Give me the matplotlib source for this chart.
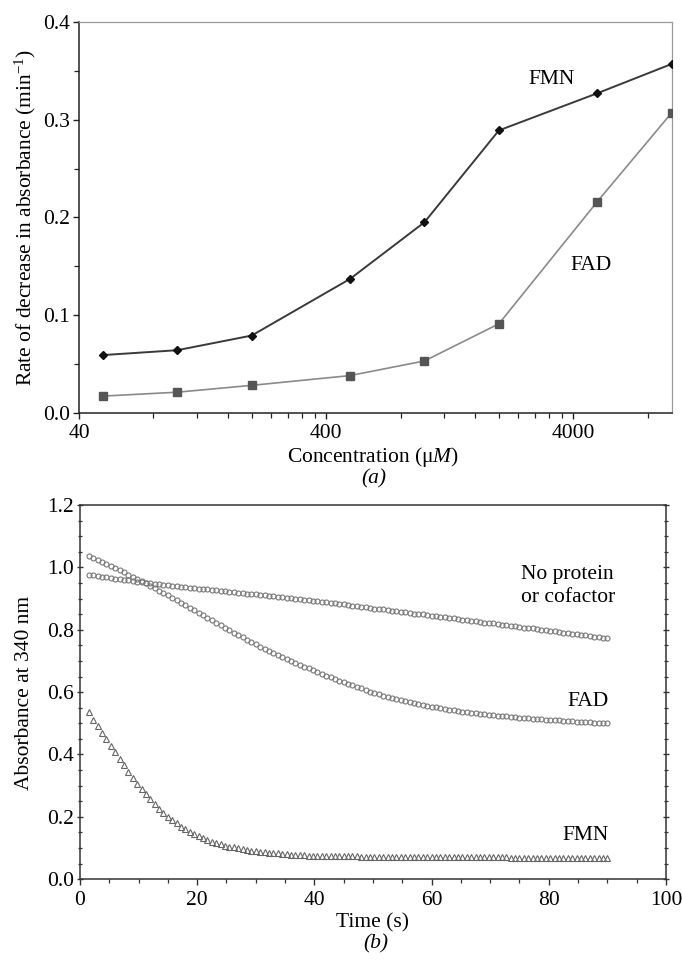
import matplotlib
matplotlib.use("Agg")
import matplotlib.pyplot as plt
from matplotlib.ticker import FixedLocator, NullFormatter, MultipleLocator, FormatStrFormatter
import numpy as np

plt.rcParams['font.family'] = ['Liberation Serif', 'DejaVu Serif']
plt.rcParams['mathtext.fontset'] = 'custom'
plt.rcParams['mathtext.rm'] = 'Liberation Serif'
plt.rcParams['mathtext.it'] = 'Liberation Serif:italic'

# ---------------- Panel (a) data ----------------
conc = [50, 100, 200, 500, 1000, 2000, 5000, 10000]
rate_fmn = [0.059, 0.064, 0.079, 0.137, 0.195, 0.289, 0.327, 0.357]
rate_fad = [0.017, 0.021, 0.028, 0.038, 0.053, 0.091, 0.216, 0.307]
conc_major = [40, 400, 4000]
conc_minor = [80, 120, 160, 200, 240, 280, 320, 360,
              800, 1200, 1600, 2000, 2400, 2800, 3200, 3600, 8000]

# ---------------- Panel (b) data ----------------
t_start = 1.5
t_step = 0.75
abs_noprot = [
    0.976, 0.974, 0.972, 0.970, 0.968, 0.966, 0.964, 0.962, 0.960, 0.958,
    0.956, 0.954, 0.952, 0.950, 0.949, 0.947, 0.946, 0.944, 0.943, 0.941,
    0.940, 0.938, 0.937, 0.935, 0.934, 0.932, 0.931, 0.929, 0.928, 0.926,
    0.925, 0.923, 0.922, 0.920, 0.919, 0.917, 0.916, 0.914, 0.913, 0.911,
    0.910, 0.908, 0.907, 0.905, 0.904, 0.902, 0.901, 0.899, 0.898, 0.896,
    0.895, 0.893, 0.892, 0.890, 0.888, 0.887, 0.885, 0.883, 0.881, 0.879,
    0.877, 0.876, 0.874, 0.872, 0.870, 0.868, 0.867, 0.865, 0.863, 0.861,
    0.859, 0.858, 0.856, 0.854, 0.852, 0.850, 0.849, 0.847, 0.845, 0.843,
    0.841, 0.840, 0.838, 0.836, 0.834, 0.832, 0.831, 0.829, 0.827, 0.825,
    0.823, 0.822, 0.820, 0.818, 0.816, 0.814, 0.813, 0.811, 0.809, 0.807,
    0.805, 0.804, 0.802, 0.800, 0.798, 0.796, 0.795, 0.793, 0.791, 0.789,
    0.787, 0.786, 0.784, 0.782, 0.780, 0.778, 0.777, 0.775, 0.773]
abs_fad = [
    1.035, 1.029, 1.022, 1.016, 1.010, 1.003, 0.997, 0.990, 0.984, 0.977,
    0.970, 0.964, 0.957, 0.949, 0.941, 0.933, 0.925, 0.917, 0.910, 0.902,
    0.894, 0.886, 0.878, 0.870, 0.862, 0.854, 0.846, 0.838, 0.830, 0.822,
    0.814, 0.806, 0.799, 0.791, 0.783, 0.776, 0.768, 0.760, 0.753, 0.746,
    0.739, 0.733, 0.726, 0.719, 0.713, 0.706, 0.700, 0.694, 0.688, 0.682,
    0.676, 0.670, 0.664, 0.659, 0.653, 0.648, 0.643, 0.637, 0.632, 0.627,
    0.622, 0.617, 0.612, 0.607, 0.601, 0.597, 0.593, 0.589, 0.585, 0.582,
    0.578, 0.574, 0.571, 0.568, 0.565, 0.562, 0.559, 0.556, 0.553, 0.551,
    0.549, 0.546, 0.544, 0.542, 0.540, 0.537, 0.536, 0.534, 0.532, 0.531,
    0.529, 0.527, 0.526, 0.525, 0.523, 0.522, 0.521, 0.519, 0.518, 0.517,
    0.516, 0.515, 0.514, 0.513, 0.512, 0.511, 0.510, 0.509, 0.508, 0.507,
    0.506, 0.505, 0.504, 0.504, 0.503, 0.502, 0.501, 0.501, 0.500]
abs_fmn = [
    0.535, 0.512, 0.490, 0.469, 0.449, 0.428, 0.407, 0.386, 0.365, 0.345,
    0.325, 0.306, 0.289, 0.272, 0.256, 0.240, 0.226, 0.212, 0.200, 0.189,
    0.179, 0.169, 0.160, 0.152, 0.145, 0.138, 0.132, 0.126, 0.121, 0.117,
    0.112, 0.108, 0.105, 0.102, 0.099, 0.096, 0.094, 0.092, 0.090, 0.088,
    0.087, 0.085, 0.084, 0.083, 0.081, 0.080, 0.079, 0.078, 0.077, 0.077,
    0.076, 0.075, 0.075, 0.075, 0.074, 0.074, 0.074, 0.073, 0.073, 0.073,
    0.073, 0.073, 0.072, 0.072, 0.072, 0.072, 0.072, 0.071, 0.071, 0.071,
    0.071, 0.071, 0.071, 0.071, 0.071, 0.071, 0.071, 0.071, 0.071, 0.071,
    0.071, 0.070, 0.070, 0.070, 0.070, 0.070, 0.070, 0.070, 0.070, 0.070,
    0.070, 0.070, 0.070, 0.070, 0.070, 0.070, 0.069, 0.069, 0.069, 0.069,
    0.069, 0.069, 0.069, 0.069, 0.069, 0.069, 0.069, 0.069, 0.068, 0.068,
    0.068, 0.068, 0.068, 0.068, 0.068, 0.068, 0.068, 0.068, 0.068]
time_s = t_start + t_step * np.arange(len(abs_fmn))

FS = 15.5

fig = plt.figure(figsize=(6.82, 9.6), dpi=100)

# ---------------- Panel (a) ----------------
ax1 = fig.add_axes([0.1158, 0.5701, 0.869, 0.407])
ax1.plot(conc, rate_fmn, '-', color='#3a3a3a', lw=1.4, marker='D', ms=3.8,
         mfc='#111111', mec='#111111', zorder=3)
ax1.plot(conc, rate_fad, '-', color='#8a8a8a', lw=1.2, marker='s', ms=5.4,
         mfc='#555555', mec='#555555', zorder=3)
ax1.set_xscale('log')
ax1.set_xlim(40, 10000)
ax1.set_ylim(0, 0.4)
ax1.xaxis.set_major_locator(FixedLocator(conc_major))
ax1.xaxis.set_minor_locator(FixedLocator(conc_minor))
ax1.xaxis.set_minor_formatter(NullFormatter())
ax1.set_xticklabels([str(v) for v in conc_major])
ax1.yaxis.set_major_locator(MultipleLocator(0.1))
ax1.yaxis.set_minor_locator(MultipleLocator(0.05))
ax1.yaxis.set_major_formatter(FormatStrFormatter('%.1f'))
for side in ['left', 'bottom']:
    ax1.spines[side].set_color('#222222')
    ax1.spines[side].set_linewidth(1.1)
for side in ['top', 'right']:
    ax1.spines[side].set_color('#9a9a9a')
    ax1.spines[side].set_linewidth(0.9)
ax1.tick_params(which='major', direction='out', length=4.5, width=1.0,
                labelsize=FS, pad=3.5, color='#222222')
ax1.tick_params(which='minor', direction='out', length=3.5, width=0.9,
                color='#222222')
ax1.tick_params(axis='y', which='major', pad=2)
ax1.set_xlabel(r'Concentration ($\mathrm{\mu}$$\mathit{M}$)', fontsize=FS)
ax1.set_ylabel(r'Rate of decrease in absorbance (min$^{-1}$)', fontsize=FS)
ax1.xaxis.set_label_coords(0.496, -0.113)
ax1.xaxis.label.set_va('center')
ax1.yaxis.set_label_coords(-0.091, 0.5)
ax1.yaxis.label.set_va('center')
ax1.text(0.798, 0.854, 'FMN', transform=ax1.transAxes, fontsize=FS,
         ha='center', va='center')
ax1.text(0.864, 0.376, 'FAD', transform=ax1.transAxes, fontsize=FS,
         ha='center', va='center')
fig.text(0.548, 1 - 479 / 960, '(a)', fontsize=FS, style='italic',
         ha='center', va='center')

# ---------------- Panel (b) ----------------
ax2 = fig.add_axes([0.1173, 0.0841, 0.8592, 0.3899])
ax2.plot(time_s, abs_noprot, 'o', ls='none', ms=3.6, mfc='none',
         mec='#777777', mew=0.8)
ax2.plot(time_s, abs_fad, 'o', ls='none', ms=3.6, mfc='none',
         mec='#777777', mew=0.8)
ax2.plot(time_s, abs_fmn, '^', ls='none', ms=3.8, mfc='none',
         mec='#666666', mew=0.8)
ax2.set_xlim(0, 100)
ax2.set_ylim(0, 1.2)
ax2.xaxis.set_major_locator(MultipleLocator(20))
ax2.xaxis.set_minor_locator(MultipleLocator(5))
ax2.yaxis.set_major_locator(MultipleLocator(0.2))
ax2.yaxis.set_minor_locator(MultipleLocator(0.05))
ax2.yaxis.set_major_formatter(FormatStrFormatter('%.1f'))
for side in ['left', 'bottom', 'top', 'right']:
    ax2.spines[side].set_color('#333333')
    ax2.spines[side].set_linewidth(1.1)
ax2.tick_params(which='major', direction='out', length=4.5, width=1.0,
                labelsize=FS, pad=4, color='#333333')
ax2.tick_params(which='minor', direction='out', length=3, width=0.9,
                color='#333333')
ax2.tick_params(which='both', axis='y', right=True)
ax2.tick_params(which='both', axis='y', direction='inout')
ax2.tick_params(axis='y', which='major', pad=2)
ax2.set_xlabel('Time (s)', fontsize=FS)
ax2.set_ylabel('Absorbance at 340 nm', fontsize=FS)
ax2.xaxis.set_label_coords(0.5, -0.117)
ax2.xaxis.label.set_va('center')
ax2.yaxis.set_label_coords(-0.094, 0.498)
ax2.yaxis.label.set_va('center')
ax2.text(0.7526, 0.783, 'No protein\nor cofactor', transform=ax2.transAxes,
         fontsize=FS, ha='left', va='center', linespacing=1.25)
ax2.text(0.902, 0.4745, 'FAD', transform=ax2.transAxes, fontsize=FS,
         ha='right', va='center')
ax2.text(0.9016, 0.118, 'FMN', transform=ax2.transAxes, fontsize=FS,
         ha='right', va='center')
fig.text(0.551, 1 - 944 / 960, '(b)', fontsize=FS, style='italic',
         ha='center', va='center')

fig.savefig('out.png', dpi=100)
